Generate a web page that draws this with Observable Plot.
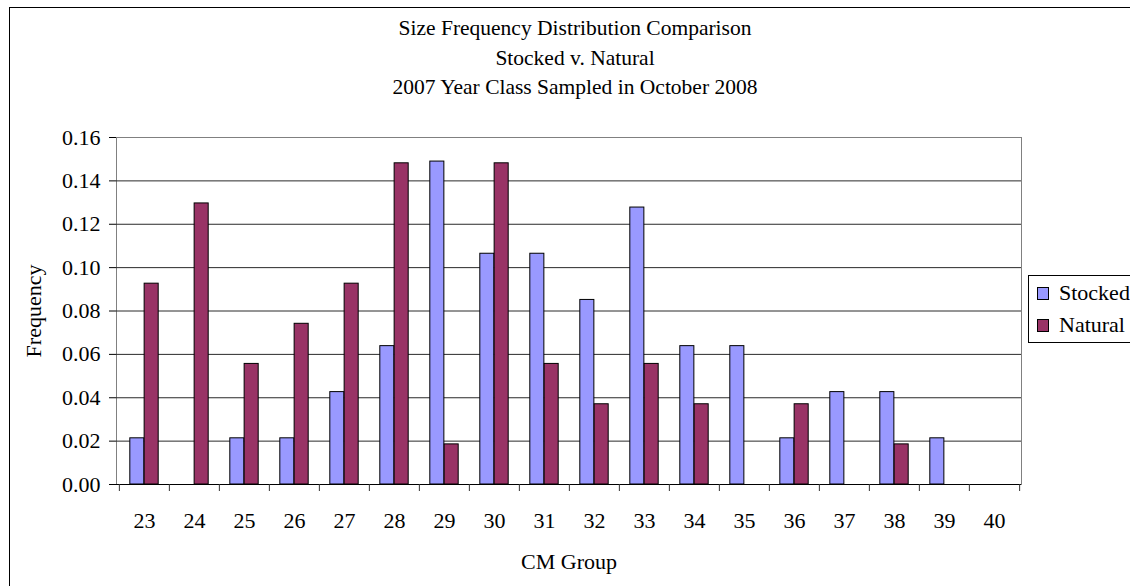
<!DOCTYPE html>
<html>
<head>
<meta charset="utf-8">
<script src="https://cdn.jsdelivr.net/npm/d3@7"></script>
<script src="https://cdn.jsdelivr.net/npm/@observablehq/plot@0.6"></script>
<style>
  html, body { margin: 0; padding: 0; background: #fff; }
  body { width: 1130px; height: 586px; overflow: hidden; position: relative;
         font-family: "Liberation Serif", "Times New Roman", serif; }
  #border { position: absolute; left: 9px; top: 7px; width: 1300px; height: 800px;
            border: 1px solid #000; box-sizing: border-box; pointer-events: none; }
  #title { position: absolute; left: 0; top: 14px; width: 1150px; text-align: center;
           font-size: 21.5px; line-height: 29.5px; color: #000; }
  #chart { position: absolute; left: 0; top: 0; }
  #chart svg, #chart svg text { font-family: "Liberation Serif", "Times New Roman", serif !important; }
  #legend { position: absolute; left: 1028px; top: 275px; width: 130px; height: 68px;
            border: 1px solid #000; box-sizing: border-box; background: #fff; padding-top: 1px; }
  .item { height: 32px; line-height: 32px; font-size: 22px; display: flex; align-items: center; }
  .sw { width: 10px; height: 11px; border: 1px solid #000; margin-left: 8px; margin-right: 10px; }
</style>
</head>
<body>
<div id="chart"></div>
<div id="title"></div>
<div id="legend"></div>
<div id="border"></div>
<script>
// ---- data ----
const titleLines = ["Size Frequency Distribution Comparison", "Stocked v. Natural", "2007 Year Class Sampled in October 2008"];
const categories = ["23","24","25","26","27","28","29","30","31","32","33","34","35","36","37","38","39","40"];
const stocked = [0.0213, 0, 0.0213, 0.0213, 0.0426, 0.0638, 0.1489, 0.1064, 0.1064, 0.0851, 0.1277, 0.0638, 0.0638, 0.0213, 0.0426, 0.0426, 0.0213, 0];
const natural = [0.0926, 0.1296, 0.0556, 0.0741, 0.0926, 0.1481, 0.0185, 0.1481, 0.0556, 0.0370, 0.0556, 0.0370, 0, 0.0370, 0, 0.0185, 0, 0];
const seriesNames = ["Stocked", "Natural"];
const seriesColors = ["#9999FF", "#993366"];
const yTicks = [0, 0.02, 0.04, 0.06, 0.08, 0.10, 0.12, 0.14, 0.16];
const xLabel = "CM Group";
const yLabel = "Frequency";

// ---- layout ----
const W = 1130, H = 586;
const mL = 116, mR = 109, mT = 137, mB = 102;
const bw = (W - mL - mR) / categories.length;
const groupW = bw * 0.57;
const gap = (bw - groupW) / 2;
const font = "'Liberation Serif', 'Times New Roman', serif";

const rows = [];
categories.forEach((c, i) => {
  rows.push({cm: c, series: seriesNames[0], value: stocked[i]});
  rows.push({cm: c, series: seriesNames[1], value: natural[i]});
});

document.getElementById("title").innerHTML = titleLines.map(t => `<div>${t}</div>`).join("");

const plot = Plot.plot({
  width: W, height: H,
  marginLeft: mL, marginRight: mR, marginTop: mT, marginBottom: mB,
  style: {fontFamily: font, fontSize: "22px", color: "#000", background: "transparent"},
  x: {domain: categories, padding: 0, tickSize: 0, tickPadding: 28, label: xLabel, labelAnchor: "center", labelOffset: 84, labelArrow: "none"},
  y: {domain: [0, 0.16], ticks: yTicks, tickFormat: d => d.toFixed(2), tickSize: 7, tickPadding: 9,
      label: yLabel, labelAnchor: "center", labelOffset: 91, labelArrow: "none", line: true},
  color: {domain: seriesNames, range: seriesColors},
  marks: [
    Plot.frame({stroke: "#808080"}),
    Plot.ruleY(yTicks.filter(d => d > 0 && d < 0.16), {stroke: "#2a2a2a", strokeWidth: 1}),
    Plot.barY(rows.filter(d => d.series === "Stocked"), {x: "cm", y: "value", fill: "series",
      stroke: "#000", strokeWidth: 1, insetLeft: gap, insetRight: bw - gap - groupW / 2}),
    Plot.barY(rows.filter(d => d.series === "Natural"), {x: "cm", y: "value", fill: "series",
      stroke: "#000", strokeWidth: 1, insetLeft: gap + groupW / 2, insetRight: gap}),
    Plot.ruleY([0], {stroke: "#000"}),
    Plot.ruleX(categories, {x: d => d, y1: 0, y2: 0, insetBottom: -7, dx: -bw / 2, stroke: "#333"}),
    Plot.ruleX(categories.slice(-1), {x: d => d, y1: 0, y2: 0, insetBottom: -7, dx: bw / 2, stroke: "#333"})
  ]
});
document.getElementById("chart").appendChild(plot);

document.getElementById("legend").innerHTML = seriesNames.map((s, i) =>
  `<div class="item"><div class="sw" style="background:${seriesColors[i]}"></div><span>${s}</span></div>`).join("");
</script>
</body>
</html>
